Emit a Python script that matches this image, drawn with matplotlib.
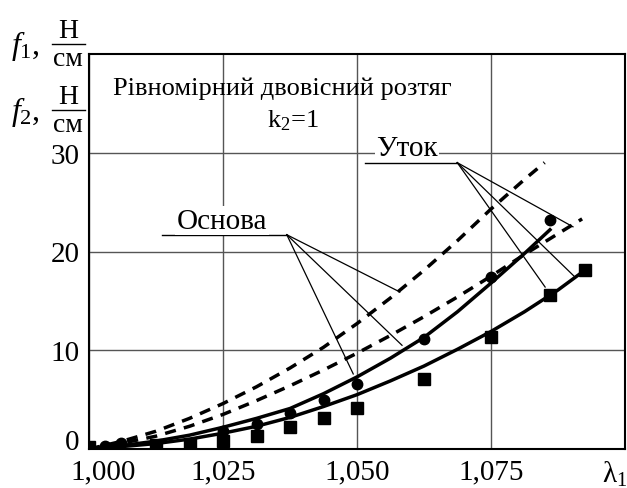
import numpy as np
import matplotlib.pyplot as plt
from matplotlib.lines import Line2D
from matplotlib.transforms import ScaledTranslation

plt.rcParams['font.family'] = ['Liberation Serif', 'DejaVu Serif']
plt.rcParams['mathtext.fontset'] = 'custom'
plt.rcParams['mathtext.rm'] = 'Liberation Serif'
plt.rcParams['mathtext.it'] = 'Liberation Serif:italic'

# model curves (dashed)
lam_dash_top = [1.0, 1.00625, 1.0125, 1.01875, 1.025, 1.03125, 1.0375, 1.04375,
                1.05, 1.05625, 1.0625, 1.06875, 1.075, 1.08125, 1.085]
f_dash_top = [0.0, 0.8, 1.8, 3.1, 4.6, 6.3, 8.2, 10.3, 12.7, 15.3, 18.1, 21.1, 24.3, 27.3, 29.0]
lam_dash_low = [1.0, 1.00625, 1.0125, 1.01875, 1.025, 1.03125, 1.0375, 1.04375,
                1.05, 1.05625, 1.0625, 1.06875, 1.075, 1.08125, 1.0875, 1.092]
f_dash_low = [0.0, 0.6, 1.3, 2.3, 3.5, 4.9, 6.4, 8.0, 9.7, 11.5, 13.4, 15.4, 17.5, 19.7, 21.8, 23.3]

# model curves (solid)
lam_solid_top = [1.0, 1.00625, 1.0125, 1.01875, 1.025, 1.03125, 1.0375, 1.04375,
                 1.05, 1.05625, 1.0625, 1.06875, 1.075, 1.08125, 1.086]
f_solid_top = [0.0, 0.35, 0.8, 1.4, 2.2, 3.1, 4.1, 5.6, 7.3, 9.2, 11.3, 13.9, 16.8, 19.8, 22.2]
lam_solid_low = [1.0, 1.00625, 1.0125, 1.01875, 1.025, 1.03125, 1.0375, 1.04375,
                 1.05, 1.05625, 1.0625, 1.06875, 1.075, 1.08125, 1.0875, 1.0925]
f_solid_low = [0.0, 0.25, 0.55, 1.0, 1.6, 2.3, 3.2, 4.3, 5.5, 6.9, 8.4, 10.1, 11.9, 13.9, 16.1, 18.1]

# experiment
lam_circ = [1.0, 1.003, 1.006, 1.025, 1.03125, 1.0375, 1.04375, 1.05, 1.0625, 1.075, 1.086]
f_circ = [0.1, 0.3, 0.6, 1.8, 2.5, 3.6, 5.0, 6.6, 11.1, 17.4, 23.2]
lam_sq = [1.0, 1.0125, 1.01875, 1.025, 1.03125, 1.0375, 1.04375, 1.05, 1.0625, 1.075, 1.086, 1.0925]
f_sq = [0.2, 0.4, 0.5, 0.8, 1.3, 2.2, 3.1, 4.2, 7.1, 11.3, 15.6, 18.1]

x_ticks = [1.0, 1.025, 1.05, 1.075, 1.1]
x_ticklabels = ['1,000', '1,025', '1,050', '1,075', 'λ$_1$']
y_ticks = [0, 10, 20, 30]

fig = plt.figure(figsize=(6.27, 4.89), dpi=100)
ax = fig.add_axes([89/627, 39/489, 536/627, 395/489])

ax.plot(lam_dash_top, f_dash_top, color='black', lw=2.5, ls=(0, (3.2, 2.4)))
ax.plot(lam_dash_low, f_dash_low, color='black', lw=2.5, ls=(0, (3.2, 2.4)))
ax.plot(lam_solid_top, f_solid_top, color='black', lw=2.5)
ax.plot(lam_solid_low, f_solid_low, color='black', lw=2.5)
ax.plot(lam_circ, f_circ, 'o', color='black', ms=7.5)
ax.plot(lam_sq, f_sq, 's', color='black', ms=8)

ax.set_xlim(1.0, 1.1)
ax.set_ylim(0, 40)
ax.set_xticks(x_ticks)
ax.set_xticklabels(x_ticklabels)
ax.set_yticks(y_ticks)
ax.grid(True, color='#555555', lw=1.0)
ax.tick_params(length=0, labelsize=21, pad=7)
for s in ax.spines.values():
    s.set_linewidth(1.5)

# nudge some tick labels
xl = ax.get_xticklabels()
xl[0].set_transform(xl[0].get_transform() + ScaledTranslation(14/100, 0, fig.dpi_scale_trans))
xl[-1].set_transform(xl[-1].get_transform() + ScaledTranslation(-10/100, 0, fig.dpi_scale_trans))
yl = ax.get_yticklabels()
yl[0].set_transform(yl[0].get_transform() + ScaledTranslation(0, 10/100, fig.dpi_scale_trans))

# title inside plot
ax.text(1.0361, 36.6, 'Рівномірний двовісний розтяг', fontsize=19, ha='center', va='center')
ax.text(1.0380, 33.3, r'k$_2$=1', fontsize=19, ha='center', va='center')

# labels with leader lines
lbl = dict(fontsize=21, ha='center', va='center',
           bbox=dict(facecolor='white', edgecolor='none', pad=1))
ax.text(1.0248, 23.1, 'Основа', **lbl)
ax.plot([1.0136, 1.0369], [21.7, 21.7], color='black', lw=1)
for ex, ey in [(1.058, 15.9), (1.0584, 10.5), (1.0493, 7.6)]:
    ax.plot([1.0369, ex], [21.7, ey], color='black', lw=0.9)

ax.text(1.0593, 30.5, 'Уток', **lbl)
ax.plot([1.0515, 1.0687], [29.0, 29.0], color='black', lw=1)
for ex, ey in [(1.0903, 22.5), (1.0905, 17.5), (1.0851, 16.4)]:
    ax.plot([1.0687, ex], [29.0, ey], color='black', lw=0.9)

# y-axis unit labels
def unit_label(ycen, sub):
    fig.text(25/627, 1 - ycen/489, r'$f_%s$,' % sub, fontsize=23, ha='center', va='center')
    fig.text(68/627, 1 - (ycen - 14)/489, 'Н', fontsize=20, ha='center', va='center')
    fig.text(68/627, 1 - (ycen + 14)/489, 'см', fontsize=20, ha='center', va='center')
    fig.add_artist(Line2D([52/627, 85/627], [1 - (ycen - 1)/489] * 2, color='black', lw=1))

unit_label(46, '1')
unit_label(112, '2')

fig.savefig('out.png', dpi=100)
